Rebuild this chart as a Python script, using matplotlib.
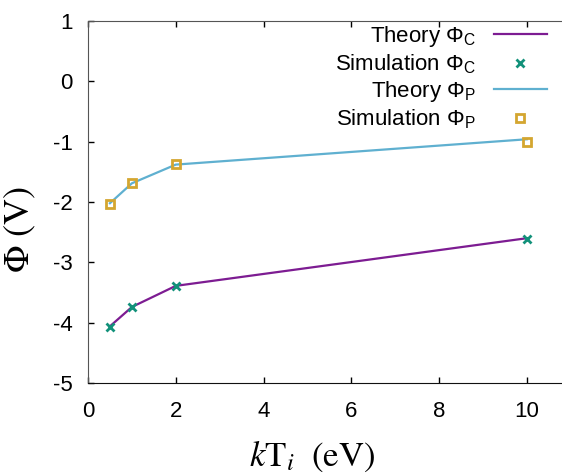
import matplotlib
matplotlib.use("Agg")
import matplotlib.pyplot as plt

plt.rcParams['font.family'] = ['Liberation Sans', 'DejaVu Sans']
plt.rcParams['mathtext.fontset'] = 'custom'
plt.rcParams['mathtext.rm'] = 'Liberation Sans'
plt.rcParams['mathtext.it'] = 'Liberation Sans:italic'
plt.rcParams['axes.unicode_minus'] = False

# ion temperature (eV)
kTi = [0.5, 1, 2, 10]

# potentials (V)
theory_C = [-4.06, -3.74, -3.39, -2.60]
sim_C = [-4.07, -3.74, -3.39, -2.62]
theory_P = [-2.02, -1.69, -1.38, -0.96]
sim_P = [-2.03, -1.69, -1.37, -1.01]

xticks = [0, 2, 4, 6, 8, 10]
yticks = [-5, -4, -3, -2, -1, 0, 1]

fig = plt.figure(figsize=(5.62, 4.73), dpi=100)
ax = fig.add_axes([88/562, 90/473, 474/562, 362/473])

ax.plot(kTi, theory_C, color='#7d1c92', lw=1.6, label=r'Theory $\Phi_\mathrm{C}$')
ax.plot(kTi, sim_C, ls='none', marker='x', ms=6, mew=2, color='#12917a',
        label=r'Simulation $\Phi_\mathrm{C}$')
ax.plot(kTi, theory_P, color='#5fb0d0', lw=1.6, label=r'Theory $\Phi_\mathrm{P}$')
ax.plot(kTi, sim_P, ls='none', marker='s', ms=5.5, mew=2, mfc='none', color='#d4a630',
        label=r'Simulation $\Phi_\mathrm{P}$')

ax.set_xlim(0, 10.8)
ax.set_ylim(-5, 1)
ax.set_xticks(xticks)
ax.set_yticks(yticks)
ax.tick_params(direction='in', length=4, width=1, labelsize=16, top=True, right=False)
ax.tick_params(axis='x', pad=13)
ax.tick_params(axis='y', pad=11)
ax.spines['right'].set_visible(False)
for s in ['left', 'top']:
    ax.spines[s].set_color('#555555')
ax.spines['bottom'].set_color('#111111')

ax.set_xlabel(r'$k\mathrm{T}_i\ \ (\mathrm{eV})$', fontsize=25, math_fontfamily='stix')
ax.set_ylabel(r'$\Phi\ (\mathrm{V})$', fontsize=26, math_fontfamily='stix')
ax.xaxis.set_label_coords(0.473, -0.155)
ax.yaxis.set_label_coords(-0.105, 0.425)

ax.legend(loc='upper right', bbox_to_anchor=(547/562, 449/473),
          bbox_transform=fig.transFigure, frameon=False, markerfirst=False,
          fontsize=16, labelspacing=0.15, handlelength=2.4, handletextpad=0.8,
          borderpad=0, borderaxespad=0)

fig.savefig('out.png', dpi=100)
